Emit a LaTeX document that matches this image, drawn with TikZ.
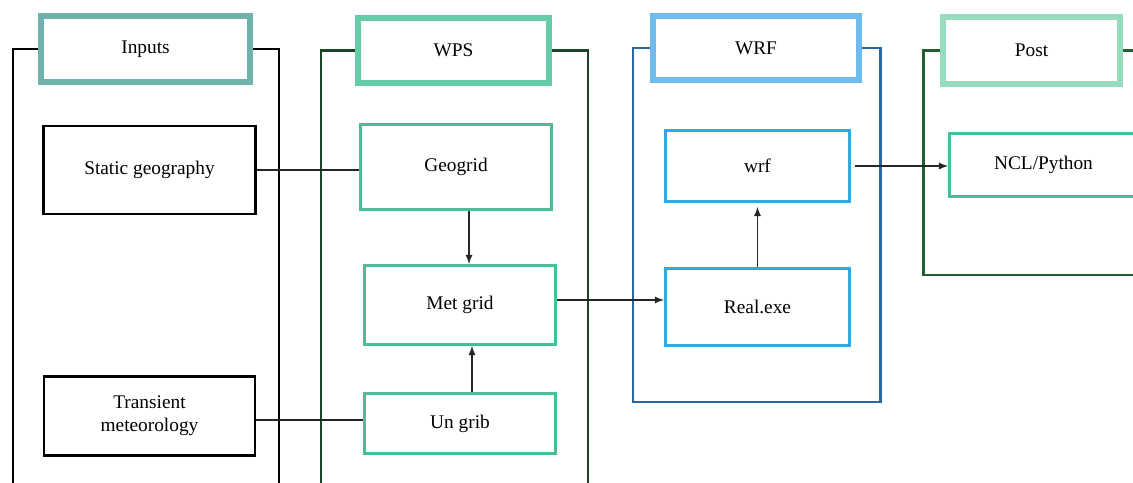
\documentclass[tikz,border=0pt]{standalone}
\usepackage{fontspec}
\setmainfont{Liberation Serif}
\usetikzlibrary{positioning}
\definecolor{inputteal}{RGB}{112,178,172}
\definecolor{wpsmint}{RGB}{100,204,166}
\definecolor{wrfsky}{RGB}{112,188,236}
\definecolor{postmint}{RGB}{152,220,192}
\definecolor{wpsdark}{RGB}{25,70,38}
\definecolor{wrfdark}{RGB}{42,102,160}
\definecolor{postdark}{RGB}{32,96,48}
\definecolor{wpsbox}{RGB}{72,190,150}
\definecolor{wrfbox}{RGB}{40,172,230}

\begin{document}
\begin{tikzpicture}[x=0.02cm, y=-0.02cm, on grid,
font=\fontsize{11}{13}\selectfont,
head/.style ={rectangle, draw, fill=white, line width=0.11cm, inner sep=0pt},
stage/.style ={rectangle, draw, fill=white, line width=1.6pt, align=center, inner sep=0pt},
frame/.style ={line width=1.7pt},
link/.style ={thick, black!85}]
  \useasboundingbox (0,0) rectangle (1133,483);
  % column headers
  \node[head, draw=inputteal, minimum width=4.19cm, minimum height=1.33cm](hIn) at (145.5,49){Inputs};
  \node[head, draw=wpsmint, minimum width=3.83cm, minimum height=1.31cm](hWps) at (453.5,50.5){WPS};
  \node[head, draw=wrfsky, minimum width=4.13cm, minimum height=1.29cm](hWrf) at (756,48){WRF};
  \node[head, draw=postmint, minimum width=3.55cm, minimum height=1.35cm](hPost) at (1031.5,50.5){Post};
  % column frames
  \draw[frame] (hIn.west) -| (13,520) -- (279,520) |- (hIn.east);
  \draw[frame, wpsdark] (hWps.west) -| (321,520) -- (588,520) |- (hWps.east);
  \draw[frame, wrfdark] (hWrf.west) -| (633,402) -- (880,402) |- (hWrf.east);
  \draw[frame, postdark] (hPost.west) -| (923,275) -- (1160,275);
  \draw[frame, postdark] (hPost.east) -- ++(40,0);
  % inputs
  \node[stage, minimum width=4.24cm, minimum height=1.76cm](geo) at (149.5,170){Static geography};
  \node[stage, minimum width=4.22cm, minimum height=1.58cm](met)[below = 4.92cm of geo]{Transient\\meteorology};
  % wps
  \node[stage, draw=wpsbox, minimum width=3.82cm, minimum height=1.70cm](geogrid) at (456,167){Geogrid};
  \node[stage, draw=wpsbox, minimum width=3.82cm, minimum height=1.58cm](metgrid)[below right = 2.76cm and 0.08cm of geogrid]{Met grid};
  \node[stage, draw=wpsbox, minimum width=3.82cm, minimum height=1.20cm](ungrib)[below = 2.37cm of metgrid]{Un grib};
  % wrf
  \node[stage, draw=wrfbox, minimum width=3.68cm, minimum height=1.42cm](wrf) at (757.5,166){wrf};
  \node[stage, draw=wrfbox, minimum width=3.68cm, minimum height=1.54cm](real)[below = 2.82cm of wrf]{Real.exe};
  % post
  \node[stage, draw=wpsbox, minimum width=3.76cm, minimum height=1.26cm](ncl) at (1043.5,165){NCL/Python};
  % links
  \draw[link] (geo.east) -- (geo.east -| geogrid.west);
  \draw[link] ([yshift=-0.08cm]met.east) -- ([yshift=-0.08cm]met.east -| ungrib.west);
  \draw[link, -latex] ([xshift=0.26cm]geogrid.south) -- ([xshift=0.26cm]geogrid.south |- metgrid.north);
  \draw[link, -latex] ([xshift=0.24cm]ungrib.north) -- ([xshift=0.24cm]ungrib.north |- metgrid.south);
  \draw[link, -latex] ([yshift=0.1cm]metgrid.east) -- ([yshift=0.1cm]metgrid.east -| real.west);
  \draw[link, -latex] (real.north) -- ([yshift=-0.08cm]wrf.south);
  \draw[link, -latex] ([xshift=0.08cm]wrf.east) -- (wrf.east -| ncl.west);
\end{tikzpicture}
\end{document}
